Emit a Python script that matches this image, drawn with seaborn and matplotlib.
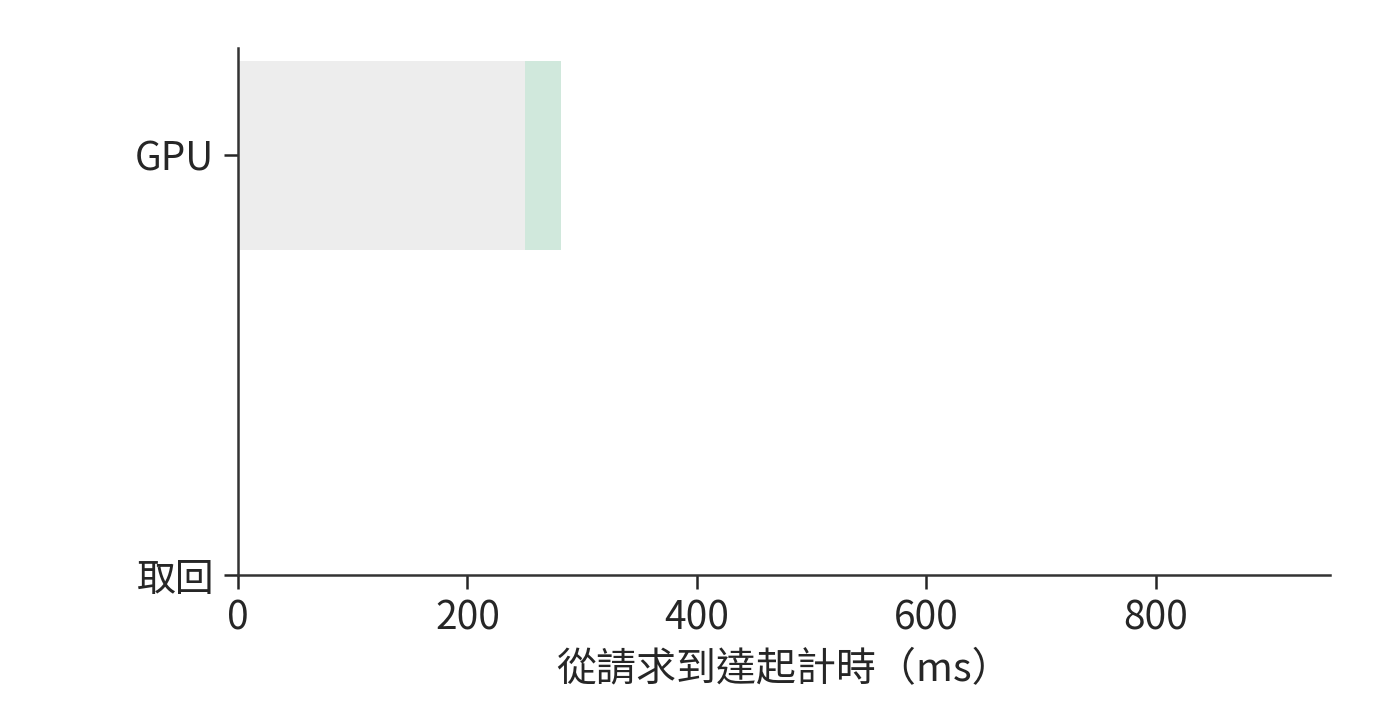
import matplotlib
matplotlib.use("Agg")
import matplotlib.pyplot as plt
import seaborn as sns
import pandas as pd

# stages and timings (ms from request arrival)
stages = ["GPU", "取回"]
wait_ms = [250, 0]
run_ms = [32, 0]

sns.set_theme(style="ticks")
plt.rcParams['font.family'] = ['Noto Sans CJK TC', 'DejaVu Sans']
plt.rcParams['axes.unicode_minus'] = False

df = pd.DataFrame({"stage": stages, "wait": wait_ms, "run": run_ms})
df["end"] = df["wait"] + df["run"]

fig = plt.figure(figsize=(7, 3.6), dpi=200)
ax = fig.add_axes([0.17, 0.201, 0.78, 0.732])

# green = running part, drawn as full length then covered by the grey waiting part
sns.barplot(data=df, y="stage", x="end", order=stages, orient="h",
            color="#d0e8dc", saturation=1, width=0.45, linewidth=0, ax=ax)
sns.barplot(data=df, y="stage", x="wait", order=stages, orient="h",
            color="#ededed", saturation=1, width=0.45, linewidth=0, ax=ax)

ax.set_xlim(0, 952)
ax.set_ylim(1, -0.255)
ax.set_xticks([0, 200, 400, 600, 800])
ax.set_xlabel("從請求到達起計時（ms）", fontsize=14.4, color="#262626")
ax.set_ylabel("")
ax.tick_params(labelsize=14, colors="#262626", length=5, width=0.9)
for s in ["left", "bottom"]:
    ax.spines[s].set_color("#333333")
    ax.spines[s].set_linewidth(0.9)
sns.despine(ax=ax)

fig.savefig("out.png", dpi=200)
